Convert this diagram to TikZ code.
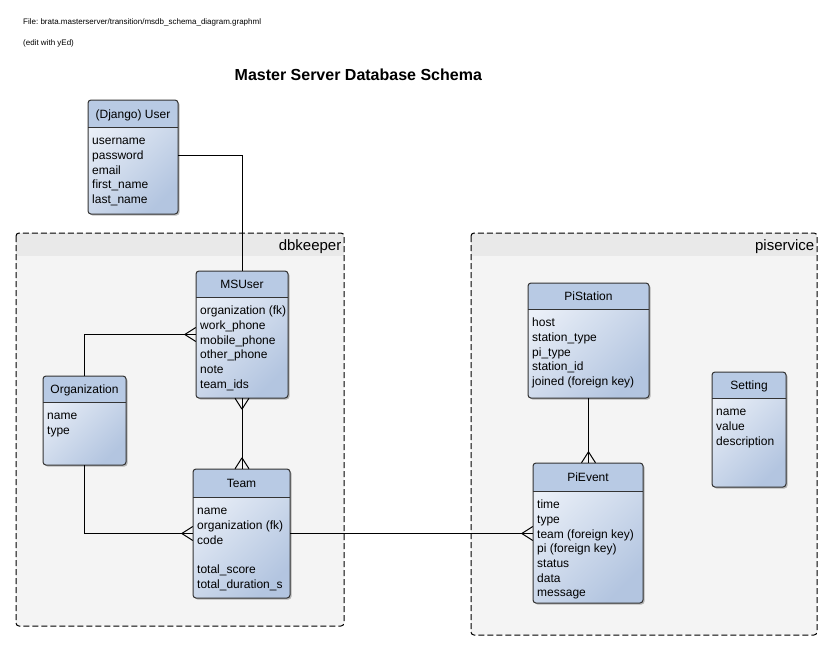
\documentclass[tikz,border=0pt]{standalone}
\usepackage{fontspec}
\setmainfont{Liberation Sans}
\usetikzlibrary{shadows,calc}
\definecolor{headcol}{HTML}{B8CAE4}
\definecolor{lightcol}{HTML}{EBF0F8}
\definecolor{darkcol}{HTML}{B3C5E0}
\definecolor{bordercol}{HTML}{333333}
\definecolor{groupfill}{HTML}{F4F4F4}
\definecolor{groupband}{HTML}{E9E9E9}
\newcommand\entfont{\fontsize{12}{14}\selectfont}
\tikzset{
  entbox/.style={rectangle, rounded corners=3pt, inner sep=0pt,
    top color=lightcol, bottom color=darkcol, shading angle=45,
    drop shadow={shadow xshift=1.5pt, shadow yshift=-1.5pt, fill=black, opacity=0.25}},
  entline/.style={draw=bordercol, line width=1pt},
  groupbox/.style={rectangle, rounded corners=3pt, inner sep=0pt, fill=groupfill},
  groupline/.style={draw=black, line width=1pt, dash pattern=on 6pt off 3pt, rounded corners=3pt},
  conn/.style={draw=black, line width=1pt},
}
% name, x1, y1, x2, y2, ydiv, title, rows
\newcommand\entity[8]{%
  \node[entbox, minimum width={(#4-#2)*1pt}, minimum height={(#5-#3)*1pt}] (#1) at ({(#2+#4)/2},{(#3+#5)/2}) {};
  \begin{scope}
    \clip[rounded corners=3pt] (#2,#3) rectangle (#4,#5);
    \fill[headcol] (#2,#3) rectangle (#4,#6);
  \end{scope}
  \draw[entline] (#2,#6) -- (#4,#6);
  \draw[entline, rounded corners=3pt] (#2,#3) rectangle (#4,#5);
  \node[anchor=base, font=\entfont, inner sep=0pt] (#1-title) at ({(#2+#4)/2},{(#3+#6)/2+4.8}) {#7};
  \foreach \r [count=\i] in {#8} {
    \node[anchor=base west, font=\entfont, inner sep=0pt] (#1-row\i) at ({#2+4},{#6+17.6+(\i-1)*14.7}) {\r};
  }
}
% name, x1, y1, x2, y2, label
\newcommand\grp[6]{%
  \node[groupbox, minimum width={(#4-#2)*1pt}, minimum height={(#5-#3)*1pt}] (#1) at ({(#2+#4)/2},{(#3+#5)/2}) {};
  \begin{scope}
    \clip[rounded corners=3pt] (#2,#3) rectangle (#4,#5);
    \fill[groupband] (#2,#3) rectangle (#4,{#3+23});
  \end{scope}
  \draw[groupline] (#2,#3) rectangle (#4,#5);
  \node[anchor=base east, font=\fontsize{15}{18}\selectfont, inner sep=0pt] (#1-label) at ({#4-2.5},{#3+17.5}) {#6};
}
\newcommand\crowleft[1]{\draw[conn] ([xshift=-11pt]#1) -- ([yshift=7pt]#1) ([xshift=-11pt]#1) -- ([yshift=-7pt]#1);}
\newcommand\crowup[1]{\draw[conn] ([yshift=11pt]#1) -- ([xshift=7pt]#1) ([yshift=11pt]#1) -- ([xshift=-7pt]#1);}
\newcommand\crowdown[1]{\draw[conn] ([yshift=-11pt]#1) -- ([xshift=7pt]#1) ([yshift=-11pt]#1) -- ([xshift=-7pt]#1);}
\begin{document}
\begin{tikzpicture}[x=1pt, y=-1pt]
\useasboundingbox (0,0) rectangle (833,651);
\fill[white] (0,0) rectangle (833,651);

\node[anchor=base west, font=\fontsize{8}{10}\selectfont, inner sep=0pt] (file) at (23,24) {File:\ brata.masterserver/transition/msdb\_schema\_diagram.graphml};
\node[anchor=base west, font=\fontsize{8}{10}\selectfont, inner sep=0pt] (edit) at (23,45) {(edit with yEd)};
\node[anchor=base west, font=\bfseries\fontsize{16}{19}\selectfont, inner sep=0pt] (title) at (234.5,80.5) {Master Server Database Schema};

\grp{dbkeeper}{16}{233}{344}{626}{dbkeeper}
\grp{piservice}{471}{233}{817}{635}{piservice}

\entity{user}{88}{100}{178}{214}{127}{(Django) User}{username, password, email, first\_name, last\_name}
\entity{msuser}{196}{271}{288}{398}{297}{MSUser}{organization (fk), work\_phone, mobile\_phone, other\_phone, note, team\_ids}
\entity{org}{43}{376}{126}{465}{402}{Organization}{name, type}
\entity{team}{193}{469}{290}{598}{497}{Team}{name, organization (fk), code, {}, total\_score, total\_duration\_s}
\entity{pistation}{528}{283}{649}{398}{309}{PiStation}{host, station\_type, pi\_type, station\_id, joined (foreign key)}
\entity{setting}{712}{372}{786}{487}{398}{Setting}{name, value, description}
\entity{pievent}{533}{463}{643}{603}{491}{PiEvent}{time, type, team (foreign key), pi (foreign key), status, data, message}

% connectors
\draw[conn] (user.east |- 0,155) -| (msuser.north);
\draw[conn] (org.north) |- (msuser.west);
\crowleft{msuser.west}
\coordinate (mt-bot) at (msuser.south |- team.north);
\draw[conn] (msuser.south) -- (mt-bot);
\crowdown{msuser.south}
\crowup{mt-bot}
\draw[conn] (org.south) |- (team.west);
\crowleft{team.west}
\coordinate (pe-in) at (team.east -| pievent.west);
\draw[conn] (team.east) -- (pe-in);
\crowleft{pe-in}
\coordinate (ps-in) at (pistation.south |- pievent.north);
\draw[conn] (pistation.south) -- (ps-in);
\crowup{ps-in}
\end{tikzpicture}
\end{document}
